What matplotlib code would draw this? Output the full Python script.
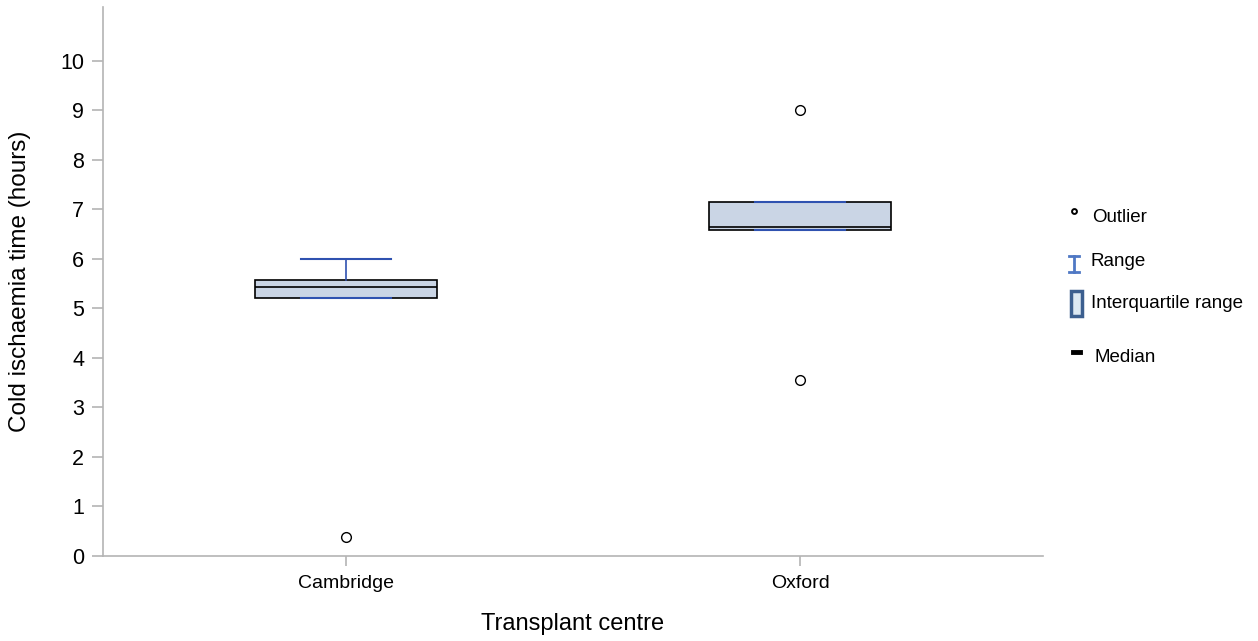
import matplotlib
matplotlib.use("Agg")
from matplotlib import pyplot as plt
from matplotlib.patches import Rectangle

plt.rcParams['font.family'] = ['Liberation Sans', 'DejaVu Sans']

# Data
centres = ["Cambridge", "Oxford"]
lower_whisker = [5.22, 6.59]
q1 = [5.22, 6.59]
median = [5.43, 6.64]
q3 = [5.57, 7.15]
upper_whisker = [6.0, 7.15]
outliers = [[0.38], [9.0, 3.55]]

yticks = list(range(0, 11))
legend_labels = ["Outlier", "Range", "Interquartile range", "Median"]

BOX_FILL = "#CAD5E5"
WHISKER = "#2F52B0"
SPINE = "#B4B4B4"

# Build the stats the boxplot drawer expects
stats = []
for i, name in enumerate(centres):
    stats.append({
        "label": name,
        "whislo": lower_whisker[i],
        "q1": q1[i],
        "med": median[i],
        "q3": q3[i],
        "whishi": upper_whisker[i],
        "fliers": outliers[i],
    })

fig = plt.figure(figsize=(12.58, 6.41), dpi=100)
ax = fig.add_axes([103 / 1258, 85 / 641, 940 / 1258, 549 / 641])

ax.bxp(stats, positions=[1, 2], widths=0.40, capwidths=0.2,
       patch_artist=True,
       boxprops=dict(facecolor=BOX_FILL, edgecolor="black", linewidth=1.2),
       medianprops=dict(color="black", linewidth=1.2),
       whiskerprops=dict(color=WHISKER, linewidth=1.2),
       capprops=dict(color=WHISKER, linewidth=1.5, zorder=5),
       flierprops=dict(marker="o", markerfacecolor="white",
                       markeredgecolor="black", markersize=7, markeredgewidth=1))

ax.set_xlim(0.465, 2.535)
ax.set_ylim(0, 11.09)
ax.set_yticks(yticks)
ax.set_xticks([1, 2])
ax.set_xticklabels(centres, fontsize=14)
ax.tick_params(axis="y", labelsize=15.5, length=8, width=1.2, color=SPINE, pad=5.5)
ax.tick_params(axis="x", length=7, width=1.2, color=SPINE, pad=7)

for side in ["top", "right"]:
    ax.spines[side].set_visible(False)
for side in ["left", "bottom"]:
    ax.spines[side].set_color(SPINE)
    ax.spines[side].set_linewidth(1.2)

ax.set_ylabel("Cold ischaemia time (hours)", fontsize=17.5, va="center", ha="center")
ax.yaxis.set_label_coords(-83 / 940, 0.5)
ax.set_xlabel("Transplant centre", fontsize=17, va="center", ha="center")
ax.xaxis.set_label_coords(0.5, -68 / 549)

# Hand-drawn key on the right, in pixel units
lax = fig.add_axes([0, 0, 1, 1], facecolor="none")
lax.set_xlim(0, 1258)
lax.set_ylim(641, 0)
lax.axis("off")

lax.plot([1073.5], [211], marker="o", markersize=3.5, markerfacecolor="white",
         markeredgecolor="black", markeredgewidth=1.4)
key_blue = "#4F78C4"
lax.plot([1074, 1074], [256, 272], color=key_blue, linewidth=2)
lax.plot([1069, 1079], [256, 256], color=key_blue, linewidth=2)
lax.plot([1069, 1079], [272, 272], color=key_blue, linewidth=2)
lax.add_patch(Rectangle((1070.5, 290.5), 11, 25, facecolor="#DCE8F2",
                        edgecolor="#3C5F8F", linewidth=2.5))
lax.plot([1073, 1080], [352, 352], color="black", linewidth=3.5)

label_pos = [(1092, 222), (1091, 266), (1091, 307.5), (1094, 361.5)]
for text, (x, y) in zip(legend_labels, label_pos):
    lax.text(x, y, text, fontsize=13.5, va="baseline", ha="left")

fig.savefig("out.png", dpi=100)
